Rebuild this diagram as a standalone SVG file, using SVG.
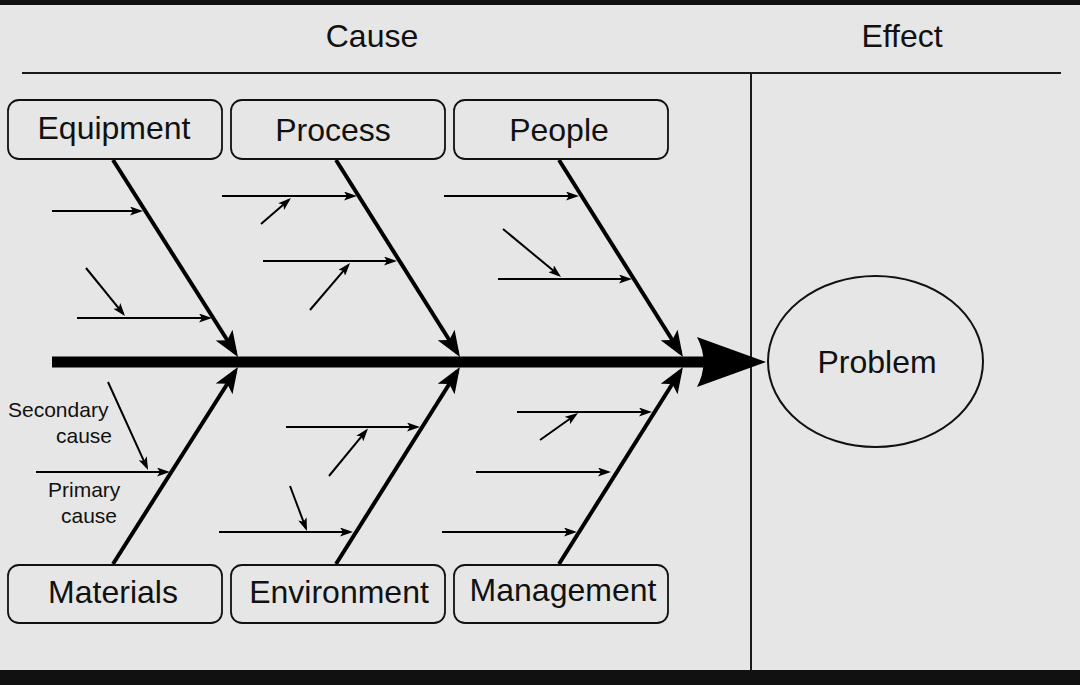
<svg xmlns="http://www.w3.org/2000/svg" width="1080" height="685" viewBox="0 0 1080 685">
<defs>
<style>
.bg{fill:#e6e6e6}
.bar{fill:#111}
.rule{stroke:#1a1a1a;stroke-width:2;fill:none}
.box{fill:#e6e6e6;stroke:#111;stroke-width:1.8}
.lbl{font-family:"Liberation Sans",Arial,sans-serif;font-size:32px;fill:#111;text-anchor:middle}
.small{font-family:"Liberation Sans",Arial,sans-serif;font-size:21px;fill:#111}
.bone{stroke:#000;stroke-width:4;fill:none;marker-end:url(#bigHead)}
.sub{stroke:#000;stroke-width:2;fill:none;marker-end:url(#smallHead)}
</style>
<marker id="bigHead" markerUnits="userSpaceOnUse" markerWidth="26" markerHeight="20" refX="21" refY="10" orient="auto">
<path d="M0,0 L26,10 L0,20 L6,10 Z" fill="#000"/>
</marker>
<marker id="smallHead" markerUnits="userSpaceOnUse" markerWidth="13" markerHeight="9" refX="10" refY="4.5" orient="auto">
<path d="M0,0 L13,4.5 L0,9 L3,4.5 Z" fill="#000"/>
</marker>
</defs>
<rect class="bg" x="0" y="0" width="1080" height="685"/>
<rect class="bar" x="0" y="0" width="1080" height="5"/>
<rect class="bar" x="0" y="670" width="1080" height="15"/>

<g id="headers">
<text class="lbl" x="372" y="47">Cause</text>
<text class="lbl" x="902" y="47">Effect</text>
<line class="rule" x1="22" y1="73" x2="1061" y2="73"/>
<line class="rule" x1="751" y1="73" x2="751" y2="670"/>
</g>

<g id="connectors">
<g id="spine">
<line x1="52" y1="362" x2="706" y2="362" stroke="#000" stroke-width="11"/>
<path d="M697,337 L766,362 L697,387 Q710,362 697,337 Z" fill="#000"/>
</g>
<g id="bones">
<line class="bone" x1="113" y1="160" x2="235.3" y2="352.8"/>
<line class="bone" x1="336" y1="160" x2="457.3" y2="352.8"/>
<line class="bone" x1="559" y1="160" x2="680.3" y2="352.8"/>
<line class="bone" x1="113" y1="564" x2="235.3" y2="371.2"/>
<line class="bone" x1="336" y1="564" x2="457.3" y2="371.2"/>
<line class="bone" x1="559" y1="564" x2="680.3" y2="371.2"/>
</g>
<g id="primary-causes">
<line class="sub" x1="52" y1="211" x2="140" y2="211"/>
<line class="sub" x1="77" y1="318" x2="209" y2="318"/>
<line class="sub" x1="222" y1="196" x2="354" y2="196"/>
<line class="sub" x1="263" y1="261" x2="394" y2="261"/>
<line class="sub" x1="444" y1="196" x2="576" y2="196"/>
<line class="sub" x1="498" y1="279" x2="629" y2="279"/>
<line class="sub" x1="36" y1="472" x2="167" y2="472"/>
<line class="sub" x1="286" y1="427" x2="417" y2="427"/>
<line class="sub" x1="219" y1="532" x2="350" y2="532"/>
<line class="sub" x1="517" y1="412" x2="649" y2="412"/>
<line class="sub" x1="476" y1="472" x2="608" y2="472"/>
<line class="sub" x1="442" y1="532" x2="574" y2="532"/>
</g>
<g id="secondary-causes">
<line class="sub" x1="86" y1="268" x2="123.1" y2="313.7"/>
<line class="sub" x1="261" y1="224" x2="288.7" y2="200"/>
<line class="sub" x1="310" y1="310" x2="348.1" y2="265.3"/>
<line class="sub" x1="503" y1="229" x2="558.7" y2="275.1"/>
<line class="sub" x1="108" y1="382" x2="146.8" y2="467.3"/>
<line class="sub" x1="329" y1="476" x2="366.1" y2="430.8"/>
<line class="sub" x1="290" y1="486" x2="305.9" y2="528.2"/>
<line class="sub" x1="540" y1="440" x2="575.6" y2="414.7"/>
</g>
</g>

<g id="node-equipment">
<rect class="box" x="8" y="100" width="214" height="59" rx="11"/>
<text class="lbl" x="114" y="139">Equipment</text>
</g>
<g id="node-process">
<rect class="box" x="231" y="100" width="214" height="59" rx="11"/>
<text class="lbl" x="333" y="141">Process</text>
</g>
<g id="node-people">
<rect class="box" x="454" y="100" width="214" height="59" rx="11"/>
<text class="lbl" x="559" y="141">People</text>
</g>
<g id="node-materials">
<rect class="box" x="8" y="565" width="214" height="58" rx="11"/>
<text class="lbl" x="113" y="603">Materials</text>
</g>
<g id="node-environment">
<rect class="box" x="231" y="565" width="214" height="58" rx="11"/>
<text class="lbl" x="339" y="603">Environment</text>
</g>
<g id="node-management">
<rect class="box" x="454" y="565" width="214" height="58" rx="11"/>
<text class="lbl" x="563" y="601">Management</text>
</g>
<g id="node-problem">
<ellipse cx="875.5" cy="361.5" rx="107.5" ry="85.5" fill="#e6e6e6" stroke="#111" stroke-width="2"/>
<text class="lbl" x="877" y="373">Problem</text>
</g>
<g id="legend">
<text class="small" x="8" y="417">Secondary</text>
<text class="small" x="56" y="443">cause</text>
<text class="small" x="48" y="497">Primary</text>
<text class="small" x="61" y="523">cause</text>
</g>
</svg>
